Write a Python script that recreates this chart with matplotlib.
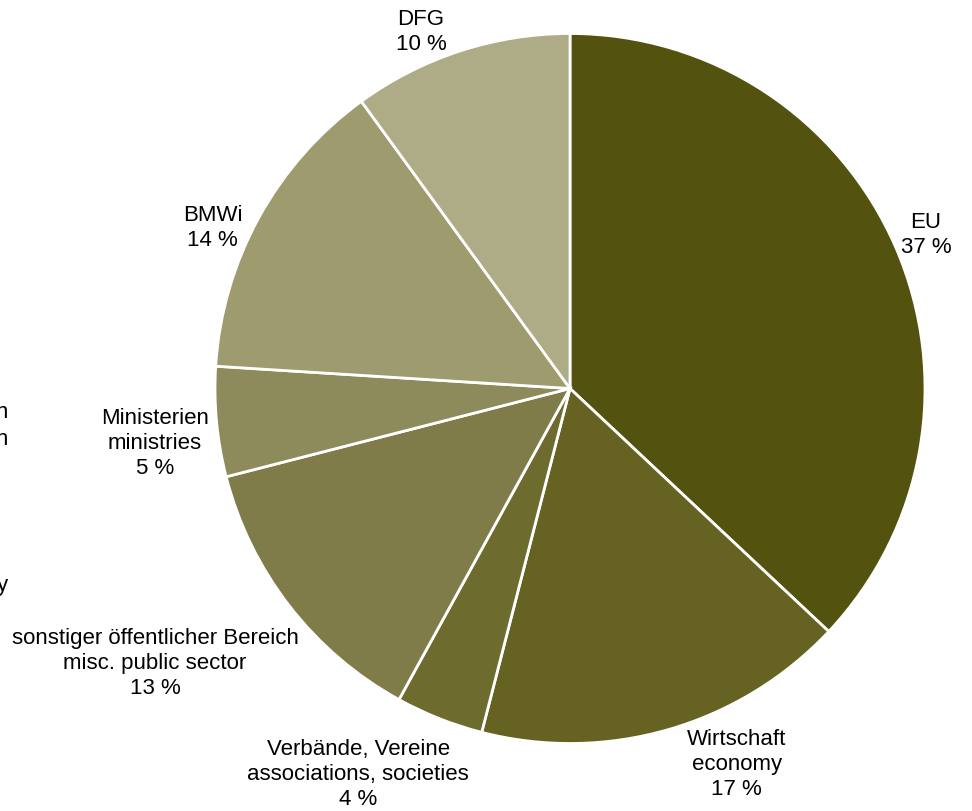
import matplotlib.pyplot as plt

labels = ["EU", "Wirtschaft\neconomy", "Verbände, Vereine\nassociations, societies",
          "sonstiger öffentlicher Bereich\nmisc. public sector", "Ministerien\nministries",
          "BMWi", "DFG"]
shares = [37, 17, 4, 13, 5, 14, 10]
colors = ["#54520f", "#656222", "#6d6b2e", "#7f7c4a", "#8d8b5b", "#9e9b6e", "#aeac87"]
# label anchor points (in pie-radius units)
label_pos = [(1.003, 0.434), (0.470, -1.056), (-0.597, -1.085), (-1.169, -0.772),
             (-1.169, -0.152), (-1.006, 0.456), (-0.42, 1.006)]

plt.rcParams['font.family'] = ['Liberation Sans', 'DejaVu Sans']

fig = plt.figure(figsize=(9.72, 8.12), dpi=100)
ax = fig.add_axes([0, 0, 1, 1])
ax.pie(shares, colors=colors, startangle=90, counterclock=False, radius=1,
       wedgeprops=dict(edgecolor="white", linewidth=2))
ax.set_xlim(-570 / 355, 402 / 355)
ax.set_ylim(-422.5 / 355, 389.5 / 355)
ax.axis('off')

for lab, v, (x, y) in zip(labels, shares, label_pos):
    ax.text(x, y, f"{lab}\n{v} %", ha='center', va='center', fontsize=16,
            linespacing=1.25, color="black")

# cut-off text fragments at the left edge
for ypx, s in [(413, "n"), (440, "n"), (585, "y")]:
    fig.text(8 / 972, 1 - ypx / 812, s, ha='right', va='center', fontsize=16, color="black")

fig.savefig("out.png", dpi=100)
